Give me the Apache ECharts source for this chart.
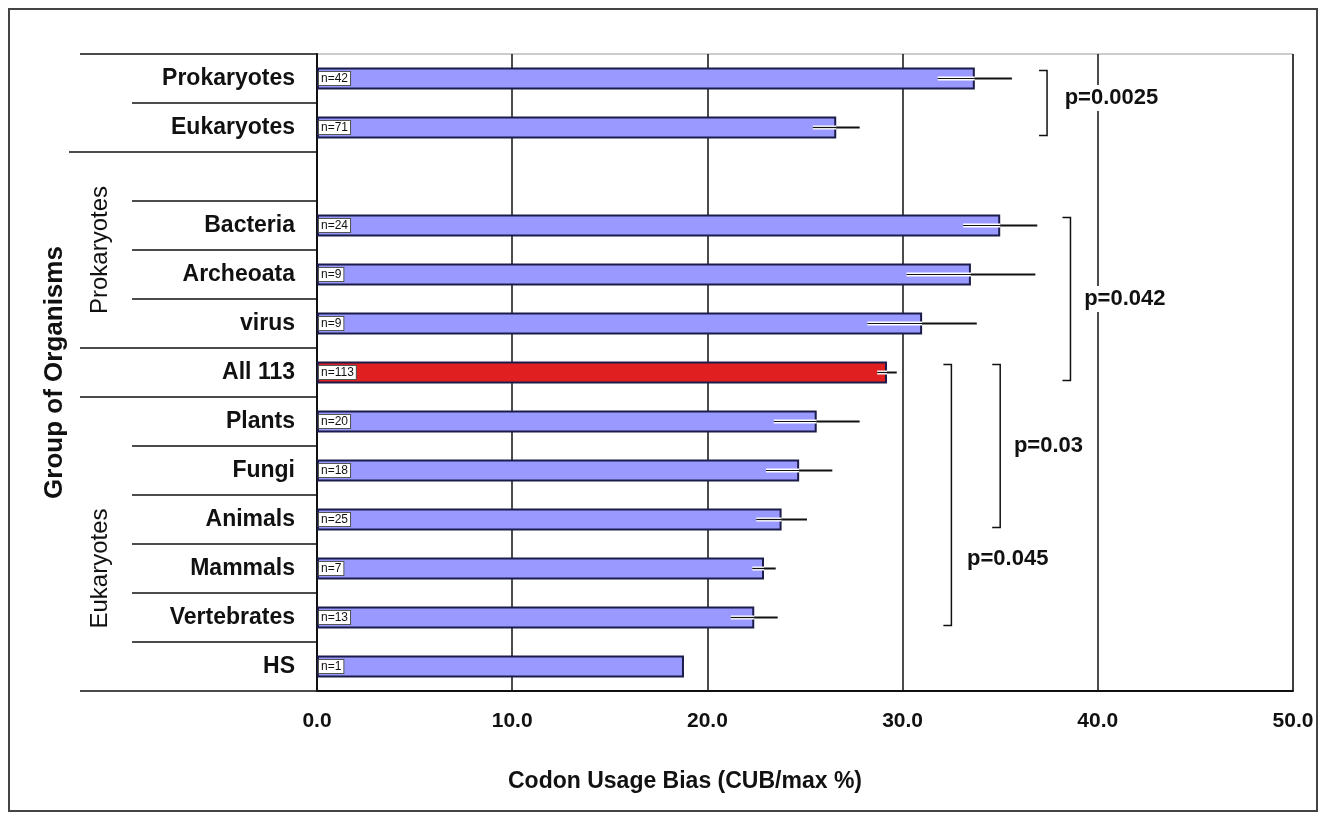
<!DOCTYPE html>
<html>
<head>
<meta charset="utf-8">
<script src="https://cdn.jsdelivr.net/npm/echarts@6/dist/echarts.min.js"></script>
<style>
  html, body { margin: 0; padding: 0; background: #fff; }
  #main { width: 1326px; height: 820px; }
</style>
</head>
<body>
<div id="main"></div>
<script>
// data
var categories = ['Prokaryotes', 'Eukaryotes', '', 'Bacteria', 'Archeoata', 'virus', 'All 113',
    'Plants', 'Fungi', 'Animals', 'Mammals', 'Vertebrates', 'HS'];
var cubValues = [33.7, 26.6, null, 35.0, 33.5, 31.0, 29.2, 25.6, 24.7, 23.8, 22.9, 22.4, 18.8];
var cubErrors = [1.9, 1.2, null, 1.9, 3.3, 2.8, 0.5, 2.2, 1.7, 1.3, 0.6, 1.2, 0];
var nLabels = ['n=42', 'n=71', '', 'n=24', 'n=9', 'n=9', 'n=113', 'n=20', 'n=18', 'n=25', 'n=7', 'n=13', 'n=1'];
var highlightIndex = 6;
var xTicks = [0, 10, 20, 30, 40, 50];
// brackets: [x value, from row, to row, label, label x value, label row]
var brackets = [
    [37.4, 0, 1, 'p=0.0025', 38.2, 0.4],
    [38.6, 3, 6, 'p=0.042', 39.2, 4.5],
    [35.0, 6, 9, 'p=0.03', 35.6, 7.5],
    [32.5, 6, 11, 'p=0.045', 33.2, 9.8]
];
// where each row separator line starts on the left (px)
var sepStarts = [80, 132, 69, 132, 132, 132, 80, 80, 132, 132, 132, 132, 132, 80];

var FONT = '"Liberation Sans", Arial, sans-serif';
var chart = echarts.init(document.getElementById('main'));

var barData = cubValues.map(function (v, i) {
    if (v === null) return null;
    return {
        value: v,
        itemStyle: { color: i === highlightIndex ? '#e02020' : '#9999ff' },
        label: { formatter: nLabels[i] }
    };
});

var errData = cubValues.map(function (v, i) {
    return v === null ? [0, i, 0, 1] : [v, i, cubErrors[i], 0];
});

function rowY(api, r) {
    var a = api.coord([0, Math.floor(r)])[1];
    var step = Math.abs(api.size([0, 1])[1]);
    return a + (r - Math.floor(r)) * step;
}

var option = {
    animation: false,
    textStyle: { fontFamily: FONT },
    grid: { left: 317, right: 33, top: 54, bottom: 129, show: true, borderColor: '#999', borderWidth: 1 },
    xAxis: {
        type: 'value', min: 0, max: 50, interval: 10,
        axisLine: { show: true, lineStyle: { color: '#111', width: 2 } },
        axisTick: { show: false },
        splitLine: { lineStyle: { color: '#111', width: 1.5 } },
        axisLabel: {
            formatter: function (v) { return xTicks.indexOf(v) >= 0 ? v.toFixed(1) : ''; },
            fontSize: 21, fontWeight: 'bold', color: '#111', margin: 20, fontFamily: FONT
        }
    },
    yAxis: {
        type: 'category', data: categories, inverse: true,
        axisLine: { lineStyle: { color: '#111', width: 2 } },
        axisTick: { show: false },
        axisLabel: { fontSize: 23, fontWeight: 'bold', color: '#111', margin: 22, fontFamily: FONT }
    },
    series: [
        {
            type: 'bar', data: barData, barWidth: 22,
            itemStyle: { borderColor: '#1c1c4a', borderWidth: 2 },
            label: {
                show: true, position: 'insideLeft', distance: 2,
                fontSize: 12, color: '#111', backgroundColor: '#fff',
                borderColor: '#555', borderWidth: 1, padding: [1, 2, 0, 2], fontFamily: FONT
            },
            z: 2
        },
        {
            type: 'custom', data: errData, z: 3,
            renderItem: function (params, api) {
                if (api.value(3) === 1 || api.value(2) === 0) return null;
                var v = api.value(0), i = api.value(1), e = api.value(2);
                var lo = api.coord([v - e, i]), mid = api.coord([v, i]), hi = api.coord([v + e, i]);
                return {
                    type: 'group', children: [
                        { type: 'line', shape: { x1: lo[0], y1: lo[1], x2: mid[0], y2: mid[1] },
                          style: { stroke: '#fff', lineWidth: 4 } },
                        { type: 'line', shape: { x1: lo[0], y1: lo[1], x2: mid[0], y2: mid[1] },
                          style: { stroke: '#111', lineWidth: 1.2 } },
                        { type: 'line', shape: { x1: mid[0], y1: mid[1], x2: hi[0], y2: hi[1] },
                          style: { stroke: '#111', lineWidth: 2 } }
                    ]
                };
            }
        },
        {
            type: 'custom', data: brackets, z: 4,
            renderItem: function (params, api) {
                var b = brackets[params.dataIndex];
                var top = api.coord([b[0], b[1]]), bot = api.coord([b[0], b[2]]);
                var y1 = top[1] - 8, y2 = bot[1] + 8, x = top[0];
                var lx = api.coord([b[4], 0])[0];
                var ly = rowY(api, b[5]);
                return {
                    type: 'group', children: [
                        { type: 'polyline', shape: { points: [[x - 8, y1], [x, y1], [x, y2], [x - 8, y2]] },
                          style: { stroke: '#111', lineWidth: 1.5, fill: null } },
                        { type: 'text', x: lx, y: ly,
                          style: { text: b[3], font: 'bold 22px ' + FONT, fill: '#111',
                                   verticalAlign: 'middle', backgroundColor: '#fff', padding: [2, 2] } }
                    ]
                };
            }
        }
    ]
};
chart.setOption(option);

// row separators, group labels, axis title and frame, placed from the axis scale
var graphics = [];
var half = Math.abs(chart.convertToPixel({ yAxisIndex: 0 }, 1) - chart.convertToPixel({ yAxisIndex: 0 }, 0)) / 2;
var axisX = chart.convertToPixel({ xAxisIndex: 0 }, 0);
var bottomY = chart.convertToPixel({ yAxisIndex: 0 }, categories.length - 1) + half;
for (var k = 0; k <= categories.length; k++) {
    var yy = k < categories.length ? chart.convertToPixel({ yAxisIndex: 0 }, k) - half : bottomY;
    graphics.push({ type: 'line', shape: { x1: sepStarts[k], y1: yy, x2: axisX, y2: yy },
        style: { stroke: '#111', lineWidth: 1.5 }, silent: true });
}
function midRows(a, b) {
    return (chart.convertToPixel({ yAxisIndex: 0 }, a) + chart.convertToPixel({ yAxisIndex: 0 }, b)) / 2;
}
graphics.push({ type: 'text', x: 100, y: midRows(2, 5), rotation: Math.PI / 2,
    style: { text: 'Prokaryotes', font: '24px ' + FONT, fill: '#111', align: 'center', verticalAlign: 'middle' } });
graphics.push({ type: 'text', x: 100, y: midRows(9, 11), rotation: Math.PI / 2,
    style: { text: 'Eukaryotes', font: '24px ' + FONT, fill: '#111', align: 'center', verticalAlign: 'middle' } });
graphics.push({ type: 'text', x: 55, y: midRows(4, 8), rotation: Math.PI / 2,
    style: { text: 'Group of Organisms', font: 'bold 26px ' + FONT, fill: '#111', align: 'center', verticalAlign: 'middle' } });
graphics.push({ type: 'text', x: 685, y: bottomY + 91,
    style: { text: 'Codon Usage Bias (CUB/max %)', font: 'bold 23px ' + FONT, fill: '#111', align: 'center', verticalAlign: 'middle' } });
graphics.push({ type: 'rect', shape: { x: 9, y: 9, width: 1308, height: 802 },
    style: { stroke: '#444', lineWidth: 2, fill: null }, silent: true });
chart.setOption({ graphic: graphics });
</script>
</body>
</html>
